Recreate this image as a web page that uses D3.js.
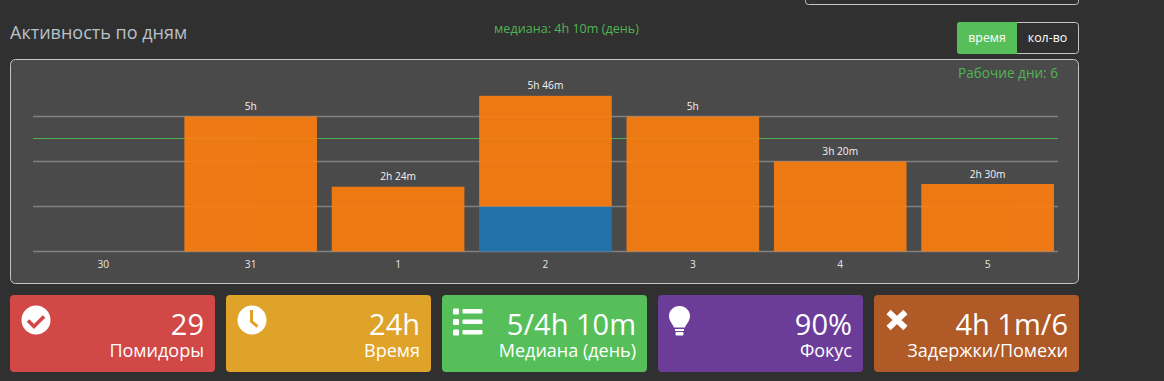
<!DOCTYPE html>
<html>
<head>
<meta charset="utf-8">
<script src="https://cdn.jsdelivr.net/npm/d3@7"></script>
<style>
    html, body { margin: 0; padding: 0; background: #303030; overflow: hidden; }
    text { font-family: "Open Sans", sans-serif; }
</style>
</head>
<body>
<div id="chart"></div>
<script>
const days = ['30', '31', '1', '2', '3', '4', '5'];
const blueMinutes = [0, 0, 0, 100, 0, 0, 0];
const orangeMinutes = [0, 300, 144, 246, 300, 200, 150];
const barLabels = ['', '5h', '2h 24m', '5h 46m', '5h', '3h 20m', '2h 30m'];
const gridMinutes = [0, 100, 200, 300];
const medianMinutes = 250;

const cardValues = ['29', '24h', '5/4h 10m', '90%', '4h 1m/6'];
const cardLabels = ['Помидоры', 'Время', 'Медиана (день)', 'Фокус', 'Задержки/Помехи'];
const cardColors = ['#d14846', '#e0a329', '#56bf5a', '#6b3d99', '#b05a28'];

const width = 1164;
const height = 381;
const plot = { left: 33, right: 1058, top: 59, bottom: 251.5 };

const svg = d3.select('#chart')
    .append('svg')
    .attr('width', width)
    .attr('height', height)
    .style('display', 'block');

// box cut off at the top of the page
svg.append('rect')
    .attr('x', 805.5).attr('y', -10)
    .attr('width', 273).attr('height', 14.5)
    .attr('rx', 3)
    .attr('fill', '#303030')
    .attr('stroke', '#c4c4c4');

svg.append('text')
    .attr('x', 10).attr('y', 38.5)
    .attr('font-size', 18)
    .attr('fill', '#b9c0c6')
    .text('Активность по дням');

svg.append('text')
    .attr('x', 566.5).attr('y', 33)
    .attr('text-anchor', 'middle')
    .attr('font-size', 12.6)
    .attr('fill', '#4fb553')
    .text('медиана: 4h 10m (день)');

// time / count switch
const toggle = svg.append('g');
toggle.append('rect')
    .attr('x', 957.5).attr('y', 22.5)
    .attr('width', 121).attr('height', 31)
    .attr('rx', 3)
    .attr('fill', '#303030')
    .attr('stroke', '#c4c4c4');
toggle.append('path')
    .attr('d', 'M1017 22H960a3 3 0 0 0-3 3V51a3 3 0 0 0 3 3H1017Z')
    .attr('fill', '#56bf5a');
toggle.append('text')
    .attr('x', 987).attr('y', 41.5)
    .attr('text-anchor', 'middle')
    .attr('font-size', 12.4)
    .attr('fill', '#fff')
    .text('время');
toggle.append('text')
    .attr('x', 1047.5).attr('y', 41.5)
    .attr('text-anchor', 'middle')
    .attr('font-size', 12.4)
    .attr('fill', '#fff')
    .text('кол-во');

// chart panel
svg.append('rect')
    .attr('x', 10.5).attr('y', 59.5)
    .attr('width', 1068).attr('height', 224)
    .attr('rx', 5)
    .attr('fill', '#4a4a4a')
    .attr('stroke', '#c4c4c4');

svg.append('text')
    .attr('x', 1058).attr('y', 78)
    .attr('text-anchor', 'end')
    .attr('font-size', 13.6)
    .attr('fill', '#4fb553')
    .text('Рабочие дни: 6');

const xScale = d3.scaleBand()
    .domain(days)
    .range([29.6, 1061.3])
    .paddingInner(0.1)
    .paddingOuter(0.05);

const yScale = d3.scaleLinear()
    .domain([0, 300])
    .range([plot.bottom, 116.5]);

const yAxis = svg.append('g')
    .attr('transform', `translate(${plot.left}, 0)`)
    .call(d3.axisLeft(yScale)
        .tickValues(gridMinutes)
        .tickSize(-(plot.right - plot.left))
        .tickFormat(''));
yAxis.select('.domain').remove();
yAxis.selectAll('.tick').attr('transform', d => `translate(0, ${yScale(d)})`);
yAxis.selectAll('line')
    .attr('stroke', '#808080')
    .attr('stroke-width', 1.5);

svg.append('line')
    .attr('x1', plot.left).attr('x2', plot.right)
    .attr('y1', yScale(medianMinutes) - 0.5).attr('y2', yScale(medianMinutes) - 0.5)
    .attr('stroke', '#4caf50')
    .attr('stroke-width', 1);

const xAxis = svg.append('g')
    .attr('transform', `translate(0, ${plot.bottom})`)
    .call(d3.axisBottom(xScale).tickSize(0).tickPadding(9));
xAxis.select('.domain').remove();
xAxis.selectAll('text')
    .attr('font-family', '"Open Sans", sans-serif')
    .attr('font-size', 10.2)
    .attr('fill', '#e6e6e6');

const bars = svg.append('g').attr('opacity', 0.9);

bars.selectAll('.blue')
    .data(days)
    .join('rect')
    .attr('class', 'blue')
    .attr('x', d => xScale(d))
    .attr('width', xScale.bandwidth())
    .attr('y', (d, i) => yScale(blueMinutes[i]))
    .attr('height', (d, i) => yScale(0) - yScale(blueMinutes[i]))
    .attr('fill', '#1f77b4');

bars.selectAll('.orange')
    .data(days)
    .join('rect')
    .attr('class', 'orange')
    .attr('x', d => xScale(d))
    .attr('width', xScale.bandwidth())
    .attr('y', (d, i) => yScale(blueMinutes[i] + orangeMinutes[i]))
    .attr('height', (d, i) => yScale(blueMinutes[i]) - yScale(blueMinutes[i] + orangeMinutes[i]))
    .attr('fill', '#ff7f0e');

svg.selectAll('.bar-label')
    .data(days)
    .join('text')
    .attr('class', 'bar-label')
    .attr('x', d => xScale(d) + xScale.bandwidth() / 2)
    .attr('y', (d, i) => yScale(blueMinutes[i] + orangeMinutes[i]) - 6.5)
    .attr('text-anchor', 'middle')
    .attr('font-size', 10.2)
    .attr('fill', '#f4f4f4')
    .text((d, i) => barLabels[i]);

// stat cards
const cardScale = d3.scaleBand()
    .domain(cardLabels)
    .range([10, 1079])
    .paddingInner(11 / 216);

const cards = svg.selectAll('.card')
    .data(cardLabels)
    .join('g')
    .attr('class', 'card')
    .attr('transform', d => `translate(${cardScale(d)}, 295)`);

cards.append('rect')
    .attr('width', cardScale.bandwidth())
    .attr('height', 77)
    .attr('rx', 4)
    .attr('fill', (d, i) => cardColors[i]);

cards.append('text')
    .attr('x', cardScale.bandwidth() - 11)
    .attr('y', 40)
    .attr('text-anchor', 'end')
    .attr('font-size', 29)
    .attr('fill', '#fff')
    .text((d, i) => cardValues[i]);

cards.append('text')
    .attr('x', cardScale.bandwidth() - 11)
    .attr('y', 62)
    .attr('text-anchor', 'end')
    .attr('font-size', 18)
    .attr('fill', '#fff')
    .text(d => d);

// card icons
const icons = [
    g => {
        g.append('circle').attr('cx', 26).attr('cy', 25).attr('r', 14.5).attr('fill', '#fff');
        g.append('path').attr('d', 'M18 25.5l6 6 10-10').attr('fill', 'none')
            .attr('stroke', cardColors[0]).attr('stroke-width', 3.6);
    },
    g => {
        g.append('circle').attr('cx', 26).attr('cy', 25).attr('r', 14.5).attr('fill', '#fff');
        g.append('path').attr('d', 'M25.5 15v11.5l6 5').attr('fill', 'none')
            .attr('stroke', cardColors[1]).attr('stroke-width', 3);
    },
    g => {
        d3.range(3).forEach(r => {
            g.append('rect').attr('x', 11).attr('y', 13.5 + r * 10.5).attr('width', 6).attr('height', 6).attr('rx', 1).attr('fill', '#fff');
            g.append('rect').attr('x', 20.5).attr('y', 14 + r * 10.5).attr('width', 20).attr('height', 4.5).attr('rx', 1).attr('fill', '#fff');
        });
    },
    g => {
        g.append('path')
            .attr('d', 'M21.5 11c-6 0-10.5 4.5-10.5 10 0 5 3.5 7.5 5 11.5h11c1.500-4 5-6.500 5-11.500 0-5.500-4.500-10-10.500-10Z')
            .attr('fill', '#fff');
        g.append('rect').attr('x', 17).attr('y', 34).attr('width', 9).attr('height', 2).attr('fill', '#fff');
        g.append('rect').attr('x', 17.500).attr('y', 37).attr('width', 8).attr('height', 3.500).attr('rx', 1).attr('fill', '#fff');
    },
    g => {
        g.append('path').attr('d', 'M14.500 17l17 16M31.500 17l-17 16').attr('fill', 'none')
            .attr('stroke', '#fff').attr('stroke-width', 6);
    }
];
cards.each(function (d, i) { icons[i](d3.select(this)); });
</script>
</body>
</html>
